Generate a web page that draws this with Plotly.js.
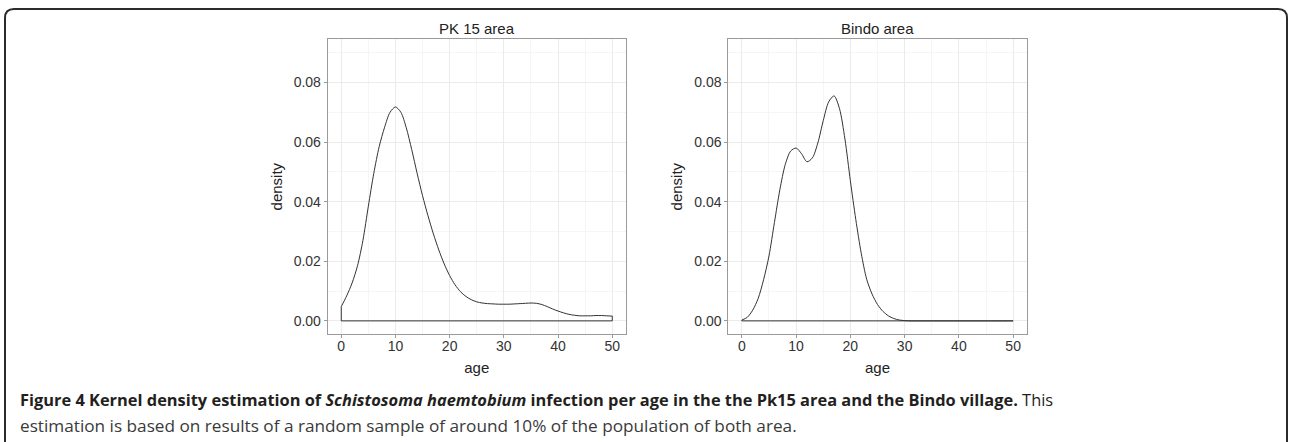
<!DOCTYPE html>
<html>
<head>
<meta charset="utf-8">
<script src="https://cdn.plot.ly/plotly-3.0.1.min.js"></script>
<style>
  html, body { margin: 0; padding: 0; background: #fff; }
  #chart { width: 1289px; height: 442px; }
</style>
</head>
<body>
<div id="chart"></div>
<script>
// ---- Data ----
const ages = [0,1,2,3,4,5,6,7,8,9,10,11,12,13,14,15,16,17,18,19,20,21,22,23,24,25,26,27,28,29,30,31,32,33,34,35,36,37,38,39,40,41,42,43,44,45,46,47,48,49,50];

const pk15Density = [0.0048,0.0084,0.0127,0.0185,0.0270,0.0385,0.0495,0.0585,0.0650,0.0700,0.0718,0.0700,0.0648,0.0575,0.0495,0.0420,0.0353,0.0292,0.0238,0.0191,0.0152,0.0121,0.0098,0.0082,0.0071,0.0064,0.0060,0.0058,0.0057,0.0056,0.0056,0.0056,0.0057,0.0058,0.0059,0.0060,0.0059,0.0055,0.0048,0.0040,0.0033,0.0027,0.0022,0.0019,0.0017,0.0017,0.0017,0.0018,0.0018,0.0017,0.0016];

const bindoDensity = [0.0003,0.0012,0.0036,0.0075,0.0138,0.0218,0.0330,0.0440,0.0525,0.0570,0.0580,0.0561,0.0534,0.0547,0.0597,0.0672,0.0735,0.0755,0.0712,0.0610,0.0470,0.0340,0.0227,0.0140,0.0090,0.0055,0.0032,0.0017,0.0008,0.0003,0.0001,0.0000,0.0000,0.0000,0.0000,0.0000,0.0000,0.0000,0.0000,0.0000,0.0000,0.0000,0.0000,0.0000,0.0000,0.0000,0.0000,0.0000,0.0000,0.0000,0.0000];

const panelTitles = ["PK 15 area", "Bindo area"];
const xTitle = "age";
const yTitle = "density";
const captionLine1 = "<b>Figure 4 Kernel density estimation of <i>Schistosoma haemtobium</i> infection per age in the the Pk15 area and the Bindo village.</b> This";
const captionLine2 = "estimation is based on results of a random sample of around 10% of the population of both area.";

// ---- Helpers ----
const W = 1289, H = 442;
const px = v => v / W;
const py = v => 1 - v / H;
const lineColor = "#333333";
const font = "Liberation Sans, Arial, sans-serif";
const capFont = "Open Sans, Noto Sans, sans-serif";

function densityTraces(y, xa, ya) {
  const n = ages.length;
  return [
    { x: ages, y: y, xaxis: xa, yaxis: ya, type: "scatter", mode: "lines",
      line: { color: lineColor, width: 1, shape: "spline", smoothing: 0.8 },
      hoverinfo: "skip", showlegend: false },
    { x: [ages[0], ages[0], ages[n-1], ages[n-1]], y: [y[0], 0, 0, y[n-1]],
      xaxis: xa, yaxis: ya, type: "scatter", mode: "lines",
      line: { color: lineColor, width: 1 }, hoverinfo: "skip", showlegend: false }
  ];
}

const data = [].concat(
  densityTraces(pk15Density, "x", "y"),
  densityTraces(bindoDensity, "x2", "y2")
);

function xAxis(domain, anchor) {
  return {
    domain: domain, anchor: anchor, range: [-2.5, 52.5], dtick: 10, tick0: 0,
    showgrid: true, gridcolor: "#ebebeb", gridwidth: 1, zeroline: false,
    minor: { dtick: 5, tick0: 0, showgrid: true, gridcolor: "#f5f5f5", gridwidth: 1 },
    showline: true, mirror: true, linecolor: "#9a9a9a", linewidth: 1,
    ticks: "outside", ticklen: 3, tickcolor: "#9a9a9a", tickwidth: 1,
    ticklabelstandoff: -4,
    tickfont: { family: font, size: 14, color: "#333" },
    title: { text: xTitle, font: { family: font, size: 15, color: "#222" }, standoff: 9 },
    fixedrange: true
  };
}
function yAxis(domain, anchor) {
  return {
    domain: domain, anchor: anchor, range: [-0.0044, 0.0945], dtick: 0.02, tick0: 0,
    tickformat: ".2f",
    showgrid: true, gridcolor: "#ebebeb", gridwidth: 1, zeroline: false,
    minor: { dtick: 0.01, tick0: 0, showgrid: true, gridcolor: "#f5f5f5", gridwidth: 1 },
    showline: true, mirror: true, linecolor: "#9a9a9a", linewidth: 1,
    ticks: "outside", ticklen: 3, tickcolor: "#9a9a9a", tickwidth: 1,
    tickfont: { family: font, size: 14, color: "#333" },
    title: { text: yTitle, font: { family: font, size: 15, color: "#222" }, standoff: 7 },
    fixedrange: true
  };
}

const yDom = [py(334), py(39.3)];
const layout = {
  width: W, height: H,
  margin: { l: 0, r: 0, t: 0, b: 0 },
  paper_bgcolor: "#fff", plot_bgcolor: "#fff",
  showlegend: false,
  xaxis: xAxis([px(327.7), px(625.8)], "y"),
  yaxis: yAxis(yDom, "x"),
  xaxis2: xAxis([px(728.3), px(1026.7)], "y2"),
  yaxis2: yAxis(yDom, "x2"),
  annotations: [
    { text: panelTitles[0], xref: "paper", yref: "paper", x: px(476.7), y: py(29),
      xanchor: "center", yanchor: "middle", showarrow: false,
      font: { family: font, size: 15, color: "#222" } },
    { text: panelTitles[1], xref: "paper", yref: "paper", x: px(877.5), y: py(29),
      xanchor: "center", yanchor: "middle", showarrow: false,
      font: { family: font, size: 15, color: "#222" } },
    { text: captionLine1, xref: "paper", yref: "paper", x: px(18), y: py(399),
      xanchor: "left", yanchor: "middle", showarrow: false, align: "left",
      font: { family: capFont, size: 16.4, color: "#231f20" } },
    { text: captionLine2, xref: "paper", yref: "paper", x: px(18), y: py(425),
      xanchor: "left", yanchor: "middle", showarrow: false, align: "left",
      font: { family: capFont, size: 17.2, color: "#3a3a3a" } }
  ],
  shapes: [
    { type: "path", xref: "paper", yref: "paper",
      path: "M " + px(5) + "," + py(442) +
            " L " + px(5) + "," + py(18) +
            " Q " + px(5) + "," + py(9) + " " + px(14) + "," + py(9) +
            " L " + px(1278) + "," + py(9) +
            " Q " + px(1287) + "," + py(9) + " " + px(1287) + "," + py(18) +
            " L " + px(1287) + "," + py(442),
      line: { color: "#2b2b2b", width: 2 } }
  ]
};

Plotly.newPlot("chart", data, layout, { displayModeBar: false, staticPlot: true });
</script>
</body>
</html>
